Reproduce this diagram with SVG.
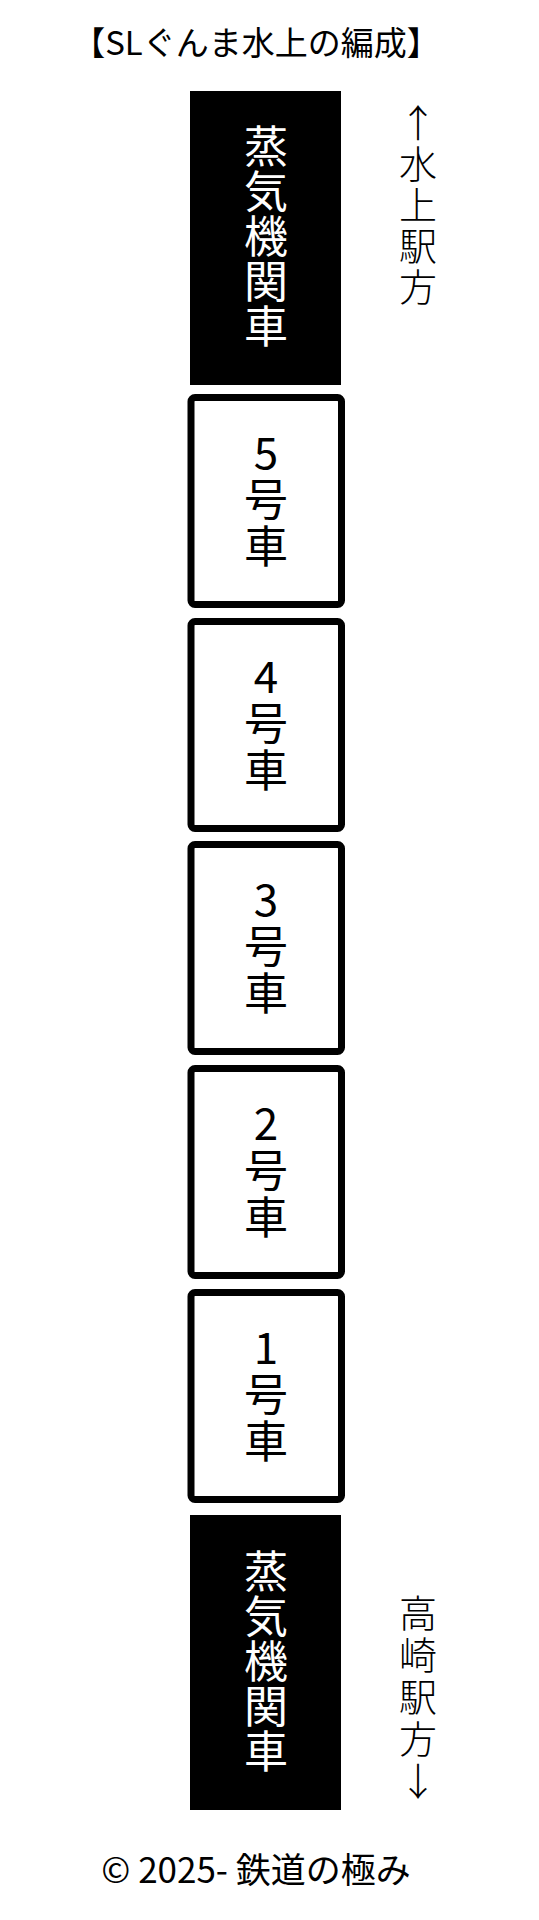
<svg xmlns="http://www.w3.org/2000/svg" width="539" height="1920" viewBox="0 0 539 1920">
<style>
.t{font-family:"Noto Sans CJK JP","Noto Sans",sans-serif;text-anchor:middle;}
.loco rect{fill:#000;}
.loco text{fill:#fff;font-size:44px;}
.car rect{fill:#fff;stroke:#000;stroke-width:7;}
.car text{fill:#000;font-size:44px;}
.dir{fill:#000;font-size:38px;font-weight:300;}
</style>
<rect width="539" height="1920" fill="#fff"/>
<text class="t" x="256" y="55" font-size="33" fill="#000">【SLぐんま水上の編成】</text>

<g id="loco-top" class="loco">
<rect x="190" y="91" width="151" height="294"/>
<text class="t" x="266" y="163">蒸</text>
<text class="t" x="266" y="208">気</text>
<text class="t" x="266" y="253">機</text>
<text class="t" x="266" y="298">関</text>
<text class="t" x="266" y="343">車</text>
</g>

<g id="dir-top">
<text class="t dir" x="418" y="137">↑</text>
<text class="t dir" x="418" y="178">水</text>
<text class="t dir" x="418" y="219">上</text>
<text class="t dir" x="418" y="260">駅</text>
<text class="t dir" x="418" y="301">方</text>
</g>

<g id="car5" class="car">
<rect x="191" y="397.5" width="150.5" height="207" rx="4"/>
<text class="t" x="266" y="469">5</text>
<text class="t" x="266" y="516">号</text>
<text class="t" x="266" y="563">車</text>
</g>
<g id="car4" class="car">
<rect x="191" y="621.5" width="150.5" height="207" rx="4"/>
<text class="t" x="266" y="693">4</text>
<text class="t" x="266" y="740">号</text>
<text class="t" x="266" y="787">車</text>
</g>
<g id="car3" class="car">
<rect x="191" y="844.5" width="150.5" height="207" rx="4"/>
<text class="t" x="266" y="916">3</text>
<text class="t" x="266" y="963">号</text>
<text class="t" x="266" y="1010">車</text>
</g>
<g id="car2" class="car">
<rect x="191" y="1068.5" width="150.5" height="207" rx="4"/>
<text class="t" x="266" y="1140">2</text>
<text class="t" x="266" y="1187">号</text>
<text class="t" x="266" y="1234">車</text>
</g>
<g id="car1" class="car">
<rect x="191" y="1292.5" width="150.5" height="207" rx="4"/>
<text class="t" x="266" y="1364">1</text>
<text class="t" x="266" y="1411">号</text>
<text class="t" x="266" y="1458">車</text>
</g>

<g id="loco-bottom" class="loco">
<rect x="190" y="1515" width="151" height="295"/>
<text class="t" x="266" y="1588">蒸</text>
<text class="t" x="266" y="1633">気</text>
<text class="t" x="266" y="1678">機</text>
<text class="t" x="266" y="1723">関</text>
<text class="t" x="266" y="1768">車</text>
</g>

<g id="dir-bottom">
<text class="t dir" x="418" y="1627">高</text>
<text class="t dir" x="418" y="1669">崎</text>
<text class="t dir" x="418" y="1711">駅</text>
<text class="t dir" x="418" y="1753">方</text>
<text class="t dir" x="418" y="1795">↓</text>
</g>

<g id="connectors"></g>

<text class="t" x="256" y="1883" font-size="35" fill="#000">© 2025- 鉄道の極み</text>
</svg>
